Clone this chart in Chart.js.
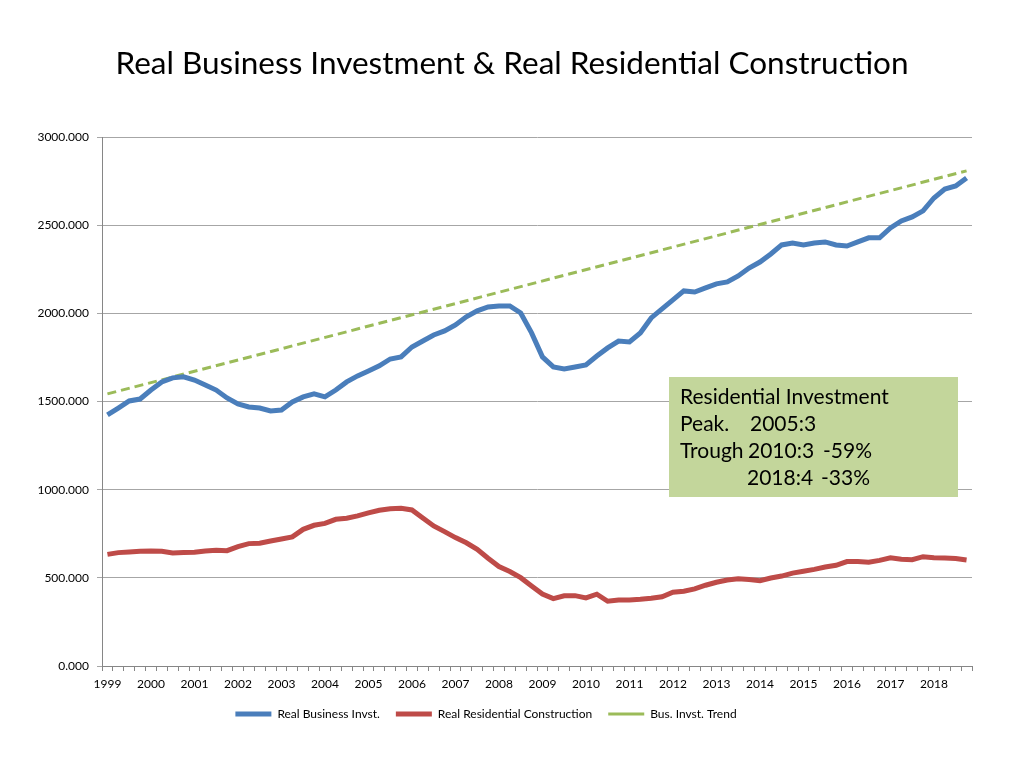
<!DOCTYPE html>
<html>
<head>
<meta charset="utf-8">
<title>Real Business Investment & Real Residential Construction</title>
<script src="https://cdn.jsdelivr.net/npm/chart.js@4.4.1/dist/chart.umd.min.js"></script>
<style>
  html, body { margin: 0; padding: 0; background: #fff; }
  canvas { display: block; }
</style>
</head>
<body>
<canvas id="myChart" width="1024" height="768"></canvas>
<script>
// tick labels on the x axis, one per year (first quarter)
const years = [
  "1999", "2000", "2001", "2002", "2003", "2004", "2005", "2006", "2007", "2008",
  "2009", "2010", "2011", "2012", "2013", "2014", "2015", "2016", "2017", "2018",
];
const quarters = ["Q1", "Q2", "Q3", "Q4"];

// real business investment, quarterly 1999Q1 - 2018Q4
const businessInvst = [
  1424, 1463, 1503, 1514,
  1565, 1611, 1634, 1640,
  1622, 1594, 1565, 1520,
  1486, 1469, 1463, 1446,
  1452, 1497, 1526, 1543,
  1526, 1565, 1611, 1645,
  1673, 1702, 1741, 1753,
  1809, 1843, 1877, 1900,
  1934, 1980, 2014, 2036,
  2042, 2042, 2002, 1889,
  1753, 1696, 1685, 1696,
  1707, 1758, 1804, 1843,
  1838, 1889, 1974, 2025,
  2076, 2127, 2121, 2144,
  2167, 2178, 2212, 2257,
  2291, 2337, 2388, 2399,
  2388, 2399, 2405, 2388,
  2382, 2405, 2428, 2428,
  2484, 2524, 2547, 2581,
  2654, 2705, 2722, 2768,
];

// real residential construction, quarterly 1999Q1 - 2018Q4
const residentialConstr = [
  633, 643, 647, 651,
  652, 651, 641, 643,
  645, 652, 656, 654,
  677, 694, 696, 709,
  720, 732, 775, 798,
  809, 832, 838, 851,
  868, 883, 892, 894,
  885, 839, 794, 762,
  728, 699, 662, 611,
  564, 536, 501, 454,
  408, 382, 398, 399,
  386, 407, 367, 374,
  374, 378, 384, 393,
  418, 424, 437, 458,
  475, 488, 495, 490,
  484, 499, 510, 527,
  537, 548, 561, 571,
  592, 592, 588, 599,
  614, 605, 603, 620,
  614, 613, 609, 601,
];

// business investment trend: straight line, end points only
const trendPoints = [
  { x: "1999Q1", y: 1543 },
  { x: "2018Q4", y: 2808 },
];

const yTicks = [0, 500, 1000, 1500, 2000, 2500, 3000];

const chartTitle = "Real Business Investment & Real Residential Construction";

const categories = [];
years.forEach((y) => quarters.forEach((q) => categories.push(y + q)));

// title centred on the page, and the green note box
const extras = {
  id: "extras",
  afterDraw(chart) {
    const c = chart.ctx;
    c.save();
    c.fillStyle = "#000";
    c.font = "31.5px Lato";
    c.textAlign = "center";
    c.textBaseline = "middle";
    c.fillText(chartTitle, 512, 64);

    c.fillStyle = "#c3d69b";
    c.fillRect(669, 377, 289, 120);
    c.fillStyle = "#000";
    c.font = "21px Lato";
    c.textAlign = "left";
    c.fillText("Residential Investment", 680, 397);
    c.fillText("Peak.", 680, 424);
    c.fillText("2005:3", 750, 424);
    c.fillText("Trough", 680, 451);
    c.fillText("2010:3", 748, 451);
    c.fillText("-59%", 823, 451);
    c.fillText("2018:4", 747, 478);
    c.fillText("-33%", 821, 478);
    c.restore();
  },
};

const ctx = document.getElementById("myChart");

new Chart(ctx, {
  type: "line",
  data: {
    labels: categories,
    datasets: [
      {
        label: "Real Business Invst.",
        data: businessInvst,
        borderColor: "#4a7ebb",
        backgroundColor: "#4a7ebb",
        borderWidth: 5,
        pointRadius: 0,
        tension: 0,
      },
      {
        label: "Real Residential Construction",
        data: residentialConstr,
        borderColor: "#be4b48",
        backgroundColor: "#be4b48",
        borderWidth: 5,
        pointRadius: 0,
        tension: 0,
      },
      {
        label: "Bus. Invst. Trend",
        data: trendPoints,
        borderColor: "#9bbb59",
        backgroundColor: "#9bbb59",
        borderWidth: 3,
        borderDash: [9, 5],
        pointRadius: 0,
        spanGaps: true,
      },
    ],
  },
  options: {
    responsive: false,
    animation: false,
    layout: {
      padding: { left: 0, right: 52, top: 137, bottom: 38 },
    },
    plugins: {
      title: { display: false },
      legend: {
        position: "bottom",
        labels: {
          usePointStyle: true,
          pointStyle: "line",
          pointStyleWidth: 36,
          boxHeight: 6,
          color: "#000",
          padding: 16,
          font: { family: "Lato", size: 12 },
        },
      },
      tooltip: { enabled: false },
    },
    scales: {
      x: {
        offset: true,
        afterFit: (scale) => { scale.height = 26; },
        grid: {
          offset: true,
          drawOnChartArea: false,
          drawTicks: true,
          tickLength: 5,
          color: "#868686",
        },
        border: { color: "#868686" },
        ticks: {
          autoSkip: false,
          maxRotation: 0,
          padding: 6,
          color: "#000",
          font: { family: "Lato", size: 12 },
          callback: (v, i) => (i % 4 === 0 ? years[i / 4] : ""),
        },
      },
      y: {
        min: yTicks[0],
        max: yTicks[yTicks.length - 1],
        afterFit: (scale) => { scale.width = 102; },
        grid: { color: "#a6a6a6", tickLength: 5 },
        border: { color: "#868686" },
        ticks: {
          stepSize: 500,
          padding: 8,
          color: "#000",
          font: { family: "Lato", size: 12 },
          callback: (v) => v.toFixed(3),
        },
      },
    },
  },
  plugins: [extras],
});
</script>
</body>
</html>
